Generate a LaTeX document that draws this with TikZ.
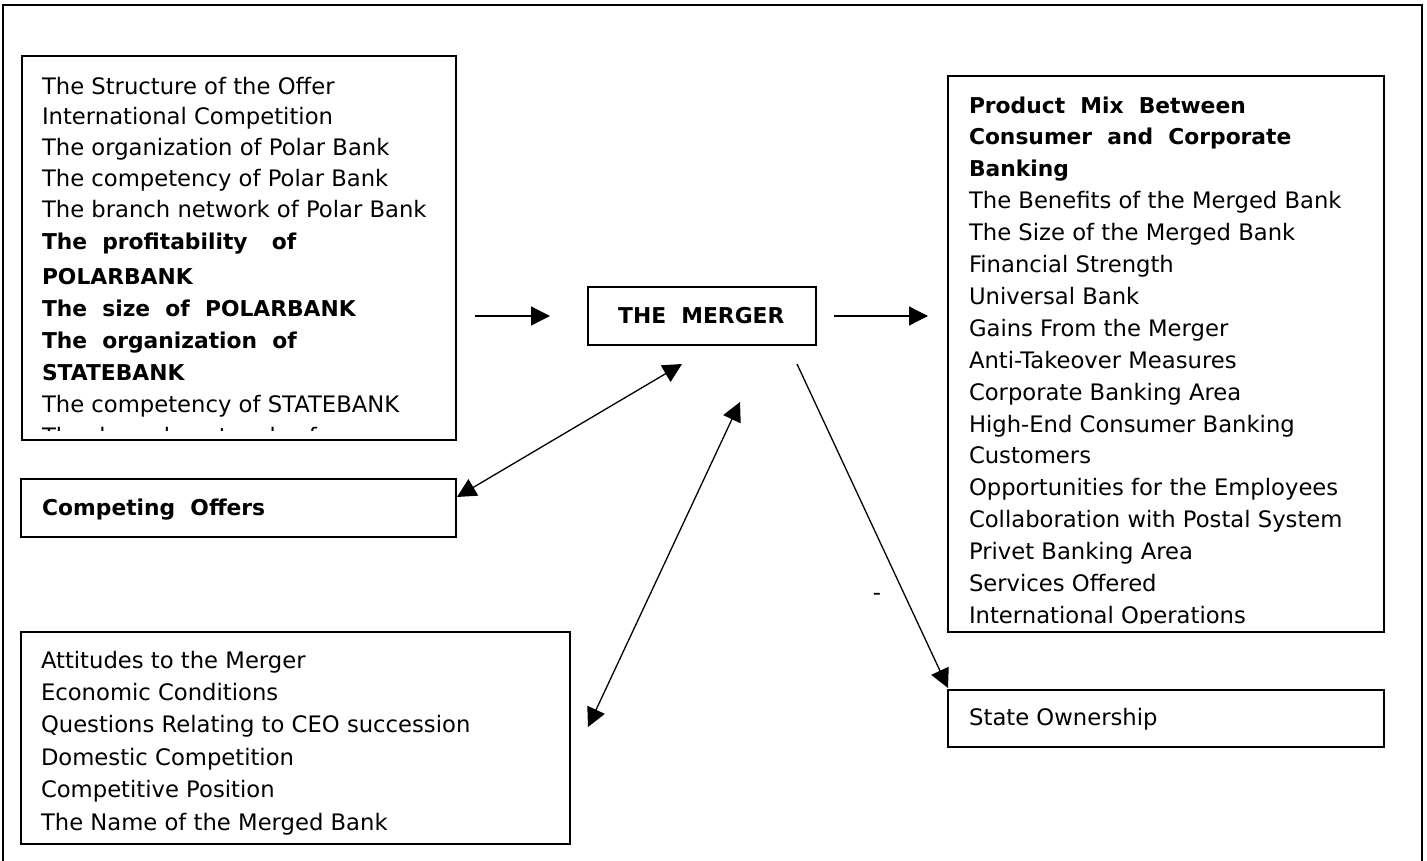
\documentclass[tikz,border=0pt]{standalone}
\usepackage{fontspec}
\setmainfont{DejaVu Sans}
\newfontfamily\dgmfam[WordSpace=2]{DejaVu Sans}
\newcommand\dgmreg{\fontsize{22.7pt}{31.9pt}\selectfont}
\newcommand\dgmbold{\dgmfam\bfseries\fontsize{21.8pt}{31.9pt}\selectfont}
\usetikzlibrary{arrows.meta,calc}
\begin{document}
\begin{tikzpicture}[x=1pt,y=-1pt,
  box/.style={draw, line width=1.5pt, inner sep=0pt, outer sep=0pt, anchor=north west, rectangle},
  conn/.style={line width=1.3pt, -{Triangle[length=19pt,width=19pt]}},
  conn2/.style={line width=1.3pt, {Triangle[length=19pt,width=19pt]}-{Triangle[length=19pt,width=19pt]}},
  lst/.style={anchor=north west, inner sep=0pt, align=left, font=\dgmreg, draw=none, minimum width=0pt, minimum height=0pt},
  lbl/.style={anchor=base west, inner sep=0pt, font=\dgmbold}
]
\useasboundingbox (0,0) rectangle (1427,860);
\fill[white] (0,0) rectangle (1427,860);
% outer frame
\draw[line width=1.5pt] (3,862) -- (3,5) -- (1422,5) -- (1422,862);

% left top box
\node[box, minimum width=434pt, minimum height=384pt,
  path picture={
    \clip ([yshift=10pt]path picture bounding box.south west) rectangle (path picture bounding box.north east);
    \node[lst] (Atext) at ([xshift=20pt,yshift=-13pt]path picture bounding box.north west) {\rule{0pt}{25pt}The Structure of the Offer\\[-1pt]
International Competition\\[-1pt]
The organization of Polar Bank\\[-1pt]
The competency of Polar Bank\\[-1pt]
The branch network of Polar Bank\\
{\dgmbold The profitability\hspace{9pt} of}\\[3pt]
{\dgmbold POLARBANK}\\
{\dgmbold The size of POLARBANK}\\
{\dgmbold The organization of}\\
{\dgmbold STATEBANK}\\
The competency of STATEBANK\\[1pt]
The\hspace{8pt} branch\hspace{5pt} network\hspace{5pt} of};
  }] (A) at (22,56) {};

% competing offers
\node[box, minimum width=435pt, minimum height=58pt] (C) at (21,479) {};
\node[lbl] (Ctext) at ($(C.north west)+(21,36)$) {Competing Offers};

% left bottom box
\node[box, minimum width=549pt, minimum height=212pt,
  path picture={
    \node[lst] (Btext) at ([xshift=20pt,yshift=-11pt]path picture bounding box.north west) {\rule{0pt}{25pt}Attitudes to the Merger\\[0.5pt]
Economic Conditions\\[0.5pt]
Questions Relating to CEO succession\\[0.5pt]
Domestic Competition\\[0.5pt]
Competitive Position\\[0.5pt]
The Name of the Merged Bank};
  }] (B) at (21,632) {};

% merger
\node[box, minimum width=228pt, minimum height=58pt] (M) at (588,287) {};
\node[lbl] (Mtext) at ($(M.north west)+(30,36)$) {THE MERGER};

% right box
\node[box, minimum width=436pt, minimum height=556pt,
  path picture={
    \clip ([yshift=9pt]path picture bounding box.south west) rectangle (path picture bounding box.north east);
    \node[lst] (Rtext) at ([xshift=21pt,yshift=-12pt]path picture bounding box.north west) {\rule{0pt}{25pt}{\dgmbold Product Mix Between}\\
{\dgmbold Consumer and Corporate}\\
{\dgmbold Banking}\\
The Benefits of the Merged Bank\\
The Size of the Merged Bank\\
Financial Strength\\
Universal Bank\\
Gains From the Merger\\
Anti-Takeover Measures\\
Corporate Banking Area\\
High-End Consumer Banking\\
Customers\\
Opportunities for the Employees\\
Collaboration with Postal System\\
Privet Banking Area\\
Services Offered\\
International Operations};
  }] (R) at (948,76) {};

% state ownership
\node[box, minimum width=436pt, minimum height=57pt] (S) at (948,690) {};
\node[lbl, font=\dgmreg] (Stext) at ($(S.north west)+(21,35)$) {State Ownership};

% dash
\node[anchor=base, inner sep=0pt, font=\dgmreg] (dash) at (877,600) {-};

% connectors
\draw[conn, shorten <=19pt, shorten >=38pt] (A.east |- M.west) -- (M.west);
\draw[conn, shorten <=18pt, shorten >=20pt] (M.east) -- (R.west |- M.east);
\draw[conn2] ($(C.north east)+(1,18)$) -- ($(M.south)+(-20,19)$);
\draw[conn2] ($(B.east)+(18,-11)$) -- ($(M.south)+(38,57)$);
\draw[conn] ($(M.south east)+(-19,19)$) -- ($(S.north west)+(0,-2)$);
\end{tikzpicture}
\end{document}
